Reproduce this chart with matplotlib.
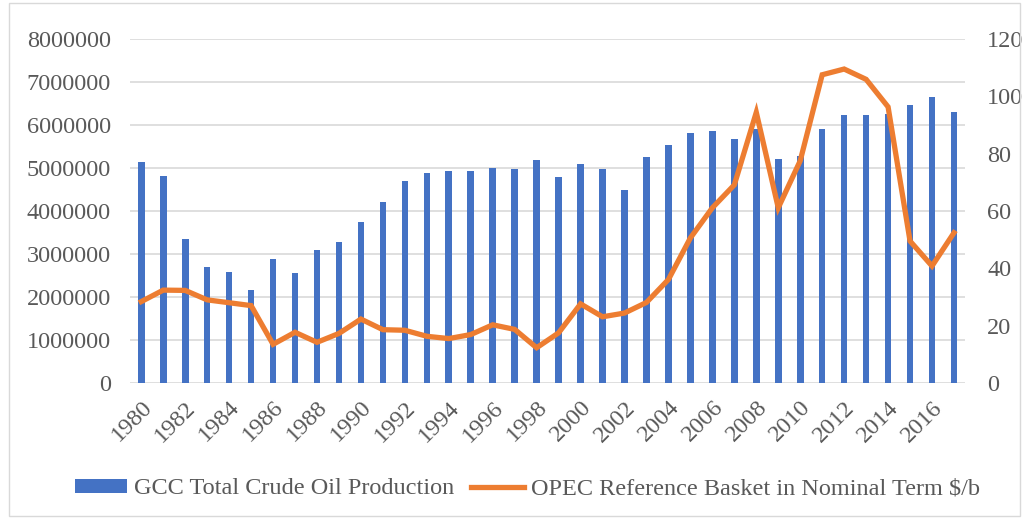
import matplotlib.pyplot as plt
from matplotlib.patches import Rectangle

plt.rcParams['font.family'] = ['Liberation Serif', 'DejaVu Serif']

years = list(range(1980, 2018))

# GCC total crude oil production
production = [5130000, 4820000, 3360000, 2700000, 2570000, 2160000, 2890000, 2560000,
              3100000, 3270000, 3740000, 4220000, 4700000, 4880000, 4940000, 4940000,
              5000000, 4980000, 5190000, 4800000, 5090000, 4970000, 4480000, 5250000,
              5530000, 5810000, 5870000, 5680000, 5900000, 5210000, 5270000, 5910000,
              6230000, 6240000, 6250000, 6470000, 6650000, 6300000]

# OPEC basket price, nominal $/b
opec_price = [28.4, 32.4, 32.3, 29.0, 28.0, 27.0, 13.5, 17.7, 14.2, 17.3,
              22.3, 18.6, 18.4, 16.3, 15.5, 16.9, 20.3, 18.7, 12.3, 17.5,
              27.6, 23.1, 24.4, 28.1, 36.1, 50.6, 61.1, 69.1, 94.4, 61.1,
              77.5, 107.5, 109.5, 105.9, 96.3, 49.5, 40.8, 52.4]

tick_labels = [str(y) if y % 2 == 0 else '' for y in years]

grey = '#595959'
blue = '#4472c4'
orange = '#ed7d31'
fs = 17.5

fig = plt.figure(figsize=(10.26, 5.19), dpi=100)
ax1 = fig.add_axes([0.127, 0.262, 0.8135, 0.663])
ax2 = ax1.twinx()

x = list(range(len(years)))
b = ax1.bar(x, production, width=0.3, color=blue, label='GCC Total Crude Oil Production', zorder=2)
ln, = ax2.plot(x, opec_price, color=orange, lw=3.8, label='OPEC Reference Basket in Nominal Term $/b',
               solid_joinstyle='miter', zorder=3)

ax1.set_xlim(-0.5, len(years) - 0.5)
ax1.set_ylim(0, 8000000)
ax2.set_ylim(0, 120)
ax1.set_yticks(range(0, 8000001, 1000000))
ax1.set_yticklabels([str(v) for v in range(0, 8000001, 1000000)])
ax2.set_yticks(range(0, 121, 20))

ax1.yaxis.grid(True, color='#d9d9d9', lw=1.2, zorder=0)
ax1.set_axisbelow(True)
for a in (ax1, ax2):
    for s in a.spines.values():
        s.set_visible(False)
ax1.tick_params(axis='y', length=0, pad=14, labelsize=fs, labelcolor=grey)
ax2.tick_params(axis='y', length=0, pad=16, labelsize=fs, labelcolor=grey)

ax1.set_xticks(x)
ax1.set_xticklabels(tick_labels, rotation=45, ha='right', va='top', rotation_mode='anchor',
                    fontsize=fs, color=grey)
ax1.tick_params(axis='x', length=0, pad=10)

leg = fig.legend(handles=[b, ln], loc='center', bbox_to_anchor=(0.514, 0.058), ncol=2,
                 frameon=False, fontsize=fs, handlelength=2.15, handleheight=0.5,
                 columnspacing=0.7, handletextpad=0.3)
for t in leg.get_texts():
    t.set_color(grey)

# outer chart border
fig.patches.append(Rectangle((0.009, 0.005), 0.985, 0.99, transform=fig.transFigure,
                             fill=False, edgecolor='#d9d9d9', lw=1))

fig.savefig('out.png', dpi=100)
